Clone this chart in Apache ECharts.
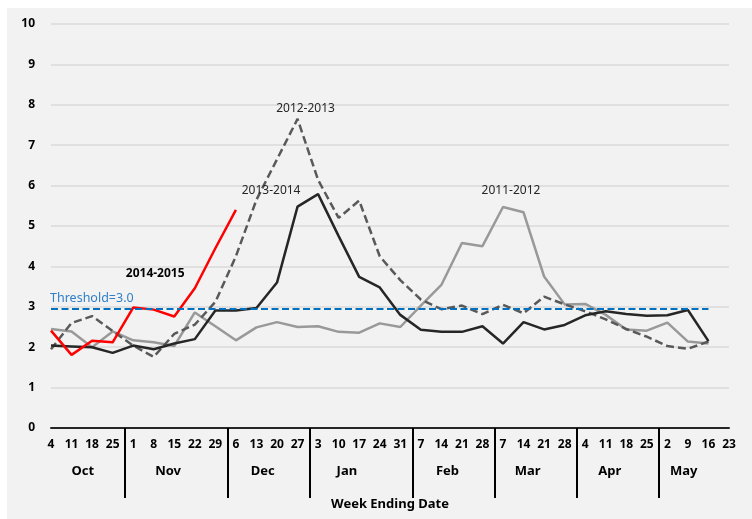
<!DOCTYPE html>
<html>
<head>
<meta charset="utf-8">
<script src="https://cdn.jsdelivr.net/npm/echarts@6/dist/echarts.min.js"></script>
<style>
    html, body { margin: 0; padding: 0; background: #fff; }
    #panel { position: absolute; left: 7px; top: 8px; width: 745px; height: 511px; background: #f2f2f2; }
    #chart { position: absolute; left: 0; top: 0; width: 752px; height: 519px; }
</style>
</head>
<body>
<div id="panel"></div>
<div id="chart"></div>
<script>
    // week ending dates, Oct -> May
    const weeks = ['4','11','18','25', '1','8','15','22','29', '6','13','20','27',
        '3','10','17','24','31', '7','14','21','28', '7','14','21','28',
        '4','11','18','25', '2','9','16','23'];
    const monthNames = ['Oct','Nov','Dec','Jan','Feb','Mar','Apr','May'];
    const monthWeeks = [4, 5, 4, 5, 4, 4, 4, 4];
    const monthLabelAt = [1.55, 5.7, 10.3, 14.4, 19.3, 23.2, 27.2, 30.8];
    const yTicks = [0, 10, 1];

    const s2011 = [2.45,2.39,2.0,2.39,2.17,2.12,2.03,2.86,2.52,2.17,2.49,2.62,2.5,2.52,2.38,2.36,2.59,
        2.5,3.03,3.54,4.58,4.5,5.47,5.34,3.75,3.06,3.07,2.8,2.44,2.41,2.61,2.14,2.09];
    const s2012 = [1.95,2.6,2.77,2.4,2.04,1.76,2.33,2.56,3.12,4.25,5.65,6.65,7.65,6.14,5.2,5.63,4.25,
        3.66,3.18,2.94,3.03,2.82,3.05,2.84,3.25,3.06,2.89,2.69,2.45,2.26,2.03,1.96,2.14];
    const s2013 = [2.04,2.02,2.0,1.86,2.04,1.95,2.09,2.2,2.91,2.91,2.97,3.6,5.48,5.79,4.75,3.74,3.48,
        2.8,2.43,2.38,2.38,2.52,2.09,2.62,2.44,2.55,2.79,2.89,2.82,2.78,2.79,2.92,2.15];
    const s2014 = [2.41,1.81,2.16,2.12,2.98,2.93,2.76,3.46,4.45,5.4];
    const thresholdLevel = 2.95;
    const thresholdText = 'Threshold=3.0';

    const font = '"Noto Sans", "DejaVu Sans", sans-serif';

    // month separators sit between the last week of a month and the first of the next
    let separators = [];
    let cum = 0;
    monthWeeks.slice(0, -1).forEach(n => {
        cum += n;
        separators.push(cum - 0.4);
    });

    function seasonLabel(text, idx, val, offset, bold) {
        return {
            symbol: 'circle',
            symbolSize: 0,
            silent: true,
            data: [{
                coord: [idx, val],
                label: {
                    show: true,
                    position: 'inside',
                    formatter: text,
                    offset: offset,
                    color: bold ? '#000' : '#262626',
                    fontWeight: bold ? 'bold' : 'normal',
                    fontSize: 12,
                    fontFamily: font
                }
            }]
        };
    }

    const option = {
        animation: false,
        grid: { left: 51, right: 23, top: 24, bottom: 91 },
        xAxis: [
            {
                type: 'category',
                data: weeks,
                boundaryGap: false,
                axisLine: { lineStyle: { color: '#262626', width: 2 } },
                axisTick: { show: false },
                axisLabel: { interval: 0, margin: 11, color: '#000', fontWeight: 'bold', fontSize: 12, fontFamily: font },
                splitLine: { show: false }
            },
            {
                type: 'value',
                position: 'bottom',
                offset: 0,
                min: 0,
                max: weeks.length - 1,
                axisLine: { show: false },
                splitLine: { show: false },
                axisTick: {
                    show: true,
                    customValues: separators,
                    length: 70,
                    lineStyle: { color: '#000', width: 2 }
                },
                axisLabel: {
                    customValues: monthLabelAt,
                    margin: 37,
                    color: '#000',
                    fontWeight: 'bold',
                    fontSize: 13,
                    fontFamily: font,
                    formatter: (v) => {
                        let best = 0;
                        monthLabelAt.forEach((p, i) => {
                            if (Math.abs(p - v) < Math.abs(monthLabelAt[best] - v)) best = i;
                        });
                        return monthNames[best];
                    }
                },
                name: 'Week Ending Date',
                nameLocation: 'middle',
                nameGap: 70,
                nameTextStyle: { color: '#000', fontWeight: 'bold', fontSize: 13, fontFamily: font }
            }
        ],
        yAxis: {
            type: 'value',
            min: yTicks[0],
            max: yTicks[1],
            interval: yTicks[2],
            axisLine: { show: false },
            axisTick: { show: false },
            axisLabel: { margin: 16, color: '#000', fontWeight: 'bold', fontSize: 12, fontFamily: font },
            splitLine: { lineStyle: { color: '#dadada', width: 1.5 } }
        },
        series: [
            {
                name: '2011-2012',
                type: 'line',
                xAxisIndex: 0,
                symbol: 'none',
                data: s2011,
                lineStyle: { color: '#999999', width: 2.5 },
                markPoint: seasonLabel('2011-2012', 22, s2011[22], [8, -16], false)
            },
            {
                name: '2012-2013',
                type: 'line',
                xAxisIndex: 0,
                symbol: 'none',
                data: s2012,
                lineStyle: { color: '#595959', width: 2.5, type: [8, 4] },
                markPoint: seasonLabel('2012-2013', 12, s2012[12], [8, -10], false)
            },
            {
                name: '2013-2014',
                type: 'line',
                xAxisIndex: 0,
                symbol: 'none',
                data: s2013,
                lineStyle: { color: '#262626', width: 2.5 },
                markPoint: seasonLabel('2013-2014', 13, s2013[13], [-47, -4], false),
                markLine: {
                    symbol: 'none',
                    silent: true,
                    lineStyle: { color: '#0070c0', width: 2.2, type: [7, 3.5] },
                    label: {
                        show: true,
                        position: 'insideStartTop',
                        formatter: thresholdText,
                        distance: [-1, 4],
                        color: '#2f7fc8',
                        fontSize: 12.5,
                        fontFamily: font
                    },
                    data: [[{ coord: [0, thresholdLevel] }, { coord: [weeks.length - 2, thresholdLevel] }]]
                }
            },
            {
                name: '2014-2015',
                type: 'line',
                xAxisIndex: 0,
                symbol: 'none',
                data: s2014,
                lineStyle: { color: '#ff0000', width: 2.5 },
                markPoint: seasonLabel('2014-2015', 4, s2014[4], [22, -34], true)
            }
        ]
    };

    var myChart = echarts.init(document.getElementById('chart'));
    myChart.setOption(option);
</script>
</body>
</html>
